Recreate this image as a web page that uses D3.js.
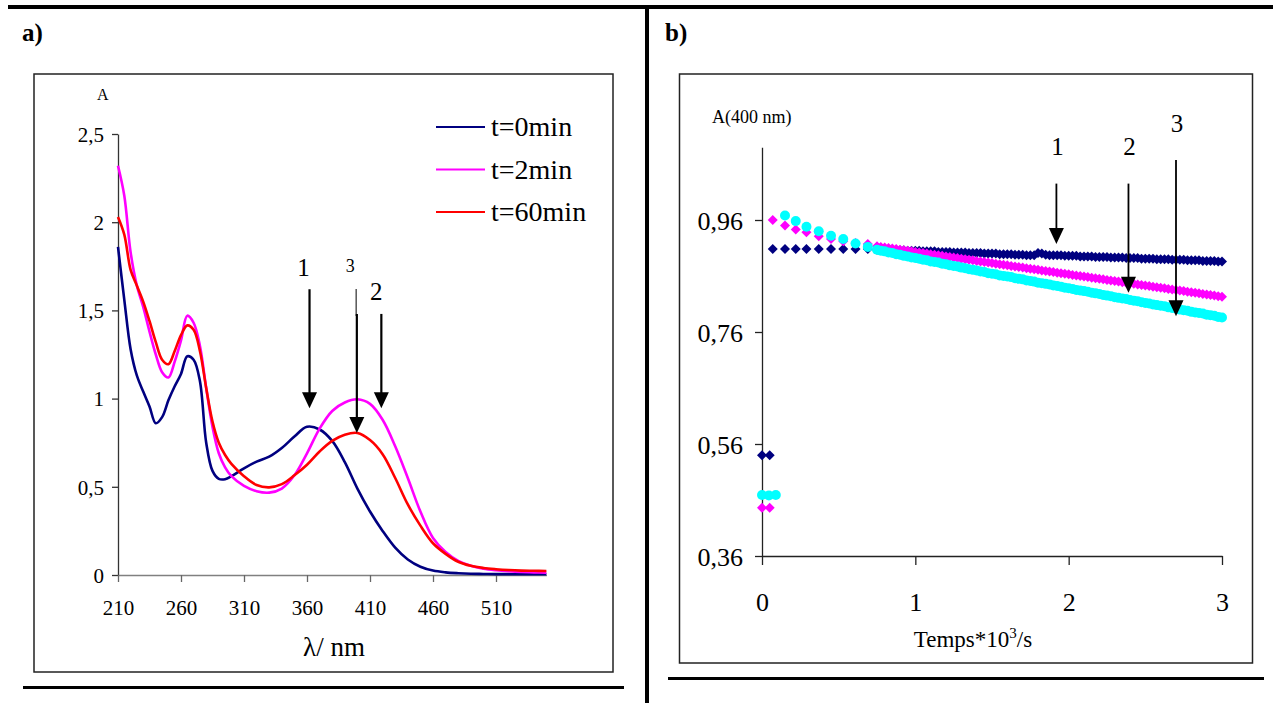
<!DOCTYPE html>
<html>
<head>
<meta charset="utf-8">
<script src="https://cdn.jsdelivr.net/npm/d3@7/dist/d3.min.js"></script>
<style>
  html, body { margin: 0; padding: 0; background: #fff; }
  svg { display: block; }
</style>
</head>
<body>
<svg id="chart" width="1273" height="703"></svg>
<script>
// ---------------- Panel a: spectra ----------------
const wavelengths = [210,215,220,225,230,235,240,245,250,255,260,265,270,275,280,285,290,295,300,
  310,320,330,340,350,360,370,380,390,400,410,420,430,440,450,460,470,480,490,500,510,520,530,540,550];
const absT0 = [1.86,1.56,1.28,1.13,1.04,0.955,0.86,0.895,0.99,1.07,1.14,1.24,1.22,1.10,0.75,0.59,0.545,0.543,0.56,
  0.605,0.643,0.671,0.72,0.785,0.84,0.825,0.76,0.64,0.49,0.36,0.25,0.155,0.088,0.047,0.025,0.015,0.01,0.007,0.006,0.005,0.005,0.004,0.004,0.004];
const absT2 = [2.32,2.15,1.83,1.64,1.52,1.38,1.25,1.15,1.12,1.21,1.33,1.47,1.43,1.30,1.06,0.84,0.69,0.61,0.56,
  0.505,0.475,0.467,0.49,0.565,0.69,0.83,0.93,0.978,0.996,0.97,0.88,0.73,0.55,0.36,0.21,0.13,0.08,0.052,0.036,0.027,0.021,0.017,0.015,0.013];
const absT60 = [2.03,1.93,1.73,1.64,1.55,1.44,1.32,1.22,1.195,1.27,1.36,1.415,1.39,1.27,1.06,0.87,0.75,0.68,0.63,
  0.56,0.51,0.497,0.515,0.565,0.625,0.70,0.76,0.795,0.805,0.765,0.685,0.55,0.40,0.28,0.18,0.12,0.075,0.052,0.04,0.033,0.028,0.025,0.024,0.023];
const seriesNamesA = ["t=0min", "t=2min", "t=60min"];
const seriesColorsA = ["#000080", "#ff00ff", "#ff0000"];
const xTicksA = [210,260,310,360,410,460,510];
const yTicksA = [0,0.5,1,1.5,2,2.5];
const arrowsA = [ {label:"1", lambda:362, top:1.62, tip:0.945}, {label:"2", lambda:419, top:1.48, tip:0.945}, {label:"3", lambda:399, top:1.48, tip:0.805} ];

// ---------------- Panel b: kinetics at 400 nm ----------------
const initTimesNavy = [0.00, 0.05];
const initNavy = [0.540, 0.540];
const initTimesMagenta = [0.00, 0.05];
const initMagenta = [0.446, 0.446];
const initTimesCyan = [0.00, 0.045, 0.09];
const initCyan = [0.469, 0.468, 0.469];

const sparseTimes = [0.07,0.15,0.22,0.29,0.37,0.45,0.53,0.61,0.69];
const sparseNavy = [0.908,0.908,0.908,0.908,0.908,0.908,0.908,0.908,0.908];
const sparseMagenta = [0.960,0.950,0.943,0.938,0.931,0.926,0.922,0.919,0.917];
const sparseTimesCyan = [0.15,0.22,0.29,0.37,0.45,0.53,0.61,0.69];
const sparseCyan = [0.968,0.958,0.948,0.940,0.932,0.926,0.918,0.912];

const denseStart = 0.75, denseStep = 0.025; // sampling grid of the recorded run, 0.75 .. 3.00
const denseNavy = [
  0.907,0.907,0.907,0.907,0.906,0.906,0.906,0.906,0.905,0.905,0.905,0.905,0.904,0.904,0.904,0.904,
  0.903,0.903,0.903,0.903,0.902,0.902,0.902,0.902,0.901,0.901,0.901,0.901,0.900,0.900,0.900,0.900,
  0.899,0.899,0.899,0.899,0.898,0.898,0.898,0.897,0.897,0.897,
  0.901,0.900,0.898,
  0.897,0.897,0.897,0.897,0.896,0.896,0.896,0.896,0.895,0.895,0.895,0.895,0.894,0.894,0.894,0.894,
  0.893,0.893,0.893,0.893,0.892,0.892,0.892,0.892,0.891,0.891,0.891,0.891,0.890,0.890,0.890,0.890,
  0.889,0.889,0.889,0.889,0.888,0.888,0.888,0.888,0.887,0.887,0.887,0.887,0.886,0.886];
const denseMagenta = [
  0.913,0.912,0.911,0.910,0.909,0.908,0.907,0.906,0.905,0.904,0.903,0.902,0.901,0.900,0.899,0.898,
  0.897,0.896,0.895,0.894,0.893,0.892,0.891,0.890,0.889,0.888,0.887,0.886,0.885,0.884,0.883,0.882,
  0.881,0.880,0.879,0.878,0.877,0.876,0.875,0.874,0.873,0.872,0.871,0.870,0.869,0.868,0.867,0.866,
  0.865,0.864,0.863,0.862,0.861,0.860,0.859,0.858,0.857,0.856,0.855,0.854,0.853,0.852,0.851,0.850,
  0.849,0.848,0.847,0.846,0.845,0.844,0.843,0.842,0.841,0.840,0.839,0.838,0.837,0.836,0.835,0.834,
  0.833,0.832,0.831,0.830,0.829,0.828,0.827,0.826,0.825,0.824,0.823];
const denseCyan = [
  0.907,0.905,0.904,0.902,0.901,0.899,0.898,0.896,0.895,0.893,0.892,
  0.891,0.889,0.888,0.886,0.885,0.884,0.882,0.881,0.879,0.878,0.877,0.875,0.874,0.872,0.871,0.870,0.868,0.867,0.865,0.864,
  0.863,0.861,0.860,0.859,0.858,0.856,0.855,0.854,0.852,0.851,0.850,0.848,0.847,0.846,0.845,0.843,0.842,0.841,0.839,0.838,
  0.837,0.835,0.834,0.833,0.832,0.830,0.829,0.828,0.826,0.825,0.824,0.822,0.821,0.820,0.819,0.817,0.816,0.815,0.813,0.812,
  0.811,0.809,0.808,0.807,0.806,0.804,0.803,0.802,0.800,0.799,0.798,0.796,0.795,0.794,0.793,0.791,0.790,0.789,0.787,0.786];
const xTicksB = [0,1,2,3];
const yTicksB = [0.36,0.56,0.76,0.96];
const yAxisTopB = 1.09;
const arrowsB = [ {label:"1", t:1.92, top:1.025, tip:0.917}, {label:"2", t:2.39, top:1.025, tip:0.83}, {label:"3", t:2.70, top:1.067, tip:0.788} ];

// ---------------- drawing ----------------
const svg = d3.select("#chart");
const comma = d => String(d).replace(".", ",");

svg.append("rect").attr("x", 8).attr("y", 5).attr("width", 1265).attr("height", 4).attr("fill", "#000");
svg.append("rect").attr("x", 645).attr("y", 5).attr("width", 4).attr("height", 698).attr("fill", "#000");
svg.append("rect").attr("x", 23).attr("y", 686).attr("width", 601).attr("height", 3).attr("fill", "#000");
svg.append("rect").attr("x", 668).attr("y", 677).attr("width", 596).attr("height", 3).attr("fill", "#000");

svg.append("text").attr("x", 22).attr("y", 41).attr("font-size", 25).attr("font-weight", "bold").text("a)");
svg.append("text").attr("x", 665).attr("y", 41).attr("font-size", 25).attr("font-weight", "bold").text("b)");

svg.append("rect").attr("x", 34).attr("y", 74).attr("width", 579).attr("height", 598)
  .attr("fill", "none").attr("stroke", "#222").attr("stroke-width", 1.5);
svg.append("rect").attr("x", 679.5).attr("y", 74).attr("width", 573).attr("height", 589)
  .attr("fill", "none").attr("stroke", "#222").attr("stroke-width", 1.5);

function arrow(g, x, y1, y2, w, head) {
  g.append("line").attr("x1", x).attr("x2", x).attr("y1", y1).attr("y2", y2 - head + 2)
    .attr("stroke", "#000").attr("stroke-width", w);
  g.append("path").attr("d", `M${x-7.5},${y2-head} L${x+7.5},${y2-head} L${x},${y2} Z`).attr("fill", "#000");
}

// ----- Panel a -----
const xA = d3.scaleLinear().domain([210, 550]).range([118, 546.4]);
const yA = d3.scaleLinear().domain([0, 2.5]).range([575, 134]);
const gA = svg.append("g");

const yAxisA = gA.append("g").attr("transform", "translate(118,0)")
  .call(d3.axisLeft(yA).tickValues(yTicksA).tickSize(6).tickSizeOuter(0).tickFormat(comma));
yAxisA.select(".domain").attr("stroke", "#333").attr("stroke-width", 1.3);
yAxisA.selectAll(".tick line").attr("stroke", "#333").attr("stroke-width", 1.3);
yAxisA.selectAll(".tick text").attr("font-size", 21).attr("fill", "#000").attr("x", -14).attr("dy", "0.35em");

const xAxisA = gA.append("g").attr("transform", "translate(0,575)")
  .call(d3.axisBottom(xA).tickValues(xTicksA).tickSize(7).tickSizeOuter(0).tickFormat(d3.format("d")));
xAxisA.select(".domain").attr("stroke", "#808080").attr("stroke-width", 1.5);
xAxisA.selectAll(".tick line").attr("stroke", "#666").attr("stroke-width", 1.3);
xAxisA.selectAll(".tick text").attr("font-size", 21).attr("fill", "#000").attr("y", 33).attr("dy", "0.35em");

gA.append("text").attr("x", 97).attr("y", 100).attr("font-size", 16).text("A");
gA.append("text").attr("x", 334).attr("y", 656).attr("font-size", 27).attr("text-anchor", "middle").text("λ/ nm");

const lineA = d3.line().x(d => xA(d[0])).y(d => yA(d[1])).curve(d3.curveCatmullRom.alpha(0.5));
[absT0, absT2, absT60].forEach((vals, i) => {
  gA.append("path").datum(wavelengths.map((w, k) => [w, vals[k]]))
    .attr("d", lineA).attr("fill", "none").attr("stroke", seriesColorsA[i]).attr("stroke-width", 2.6)
    .attr("stroke-linejoin", "round");
});

seriesNamesA.forEach((name, i) => {
  const ly = 127 + i * 42.5;
  gA.append("line").attr("x1", 436).attr("x2", 485).attr("y1", ly).attr("y2", ly)
    .attr("stroke", seriesColorsA[i]).attr("stroke-width", 2.2);
  gA.append("text").attr("x", 491).attr("y", ly + 9).attr("font-size", 28).text(name);
});

arrowsA.forEach(a => {
  const x = xA(a.lambda);
  if (a.label === "3") {
    gA.append("line").attr("x1", x).attr("x2", x).attr("y1", 289).attr("y2", 316).attr("stroke", "#000").attr("stroke-width", 1);
    arrow(gA, x + 0.7, 314, yA(a.tip), 2.2, 16);
    gA.append("text").attr("x", x - 6).attr("y", 272).attr("font-size", 18).attr("text-anchor", "middle").text(a.label);
  } else {
    arrow(gA, x, yA(a.top), yA(a.tip), 2.2, 16);
    gA.append("text").attr("x", x - (a.label === "1" ? 6 : 5)).attr("y", a.label === "1" ? 276 : 300)
      .attr("font-size", 25).attr("text-anchor", "middle").text(a.label);
  }
});

// ----- Panel b -----
const xB = d3.scaleLinear().domain([0, 3]).range([762, 1222]);
const yB = d3.scaleLinear().domain([0.36, yAxisTopB]).range([556, 556 - (yAxisTopB - 0.36) * 560]);
const gB = svg.append("g");

const yAxisB = gB.append("g").attr("transform", "translate(762,0)")
  .call(d3.axisLeft(yB).tickValues(yTicksB).tickSize(7).tickSizeOuter(0).tickFormat(d => comma(d3.format(".2f")(d))));
yAxisB.select(".domain").attr("stroke", "#222").attr("stroke-width", 1.3);
yAxisB.selectAll(".tick line").attr("stroke", "#222").attr("stroke-width", 1.3);
yAxisB.selectAll(".tick text").attr("font-size", 26).attr("fill", "#000").attr("x", -19).attr("dy", "0.35em");

const xAxisB = gB.append("g").attr("transform", "translate(0,556)")
  .call(d3.axisBottom(xB).tickValues(xTicksB).tickSize(9).tickSizeOuter(0).tickFormat(d3.format("d")));
xAxisB.select(".domain").attr("stroke", "#222").attr("stroke-width", 1.3);
xAxisB.selectAll(".tick line").attr("stroke", "#222").attr("stroke-width", 1.3);
xAxisB.selectAll(".tick text").attr("font-size", 26).attr("fill", "#000").attr("y", 46).attr("dy", "0.35em");

gB.append("text").attr("x", 712).attr("y", 123).attr("font-size", 18).text("A(400 nm)");
const xl = gB.append("text").attr("x", 973).attr("y", 647).attr("font-size", 23).attr("text-anchor", "middle");
xl.append("tspan").text("Temps*10");
xl.append("tspan").attr("font-size", 15).attr("dy", -9).text("3");
xl.append("tspan").attr("dy", 9).text("/s");

const diamond = r => `M0,${-r} L${r},0 L0,${r} L${-r},0 Z`;
function pts(times, vals) { return times.map((t, i) => [t, vals[i]]); }
const denseTimes = denseNavy.map((_, i) => denseStart + i * denseStep);

const navyPts = pts(initTimesNavy, initNavy).concat(pts(sparseTimes, sparseNavy), pts(denseTimes, denseNavy));
const magPts = pts(initTimesMagenta, initMagenta).concat(pts(sparseTimes, sparseMagenta), pts(denseTimes, denseMagenta));
const cyanPts = pts(initTimesCyan, initCyan).concat(pts(sparseTimesCyan, sparseCyan), pts(denseTimes, denseCyan));

gB.append("g").selectAll("path").data(navyPts).join("path")
  .attr("d", diamond(5)).attr("transform", d => `translate(${xB(d[0])},${yB(d[1])})`).attr("fill", "#000080");
gB.append("g").selectAll("path").data(magPts).join("path")
  .attr("d", diamond(5)).attr("transform", d => `translate(${xB(d[0])},${yB(d[1])})`).attr("fill", "#ff00ff");
gB.append("g").selectAll("circle").data(cyanPts).join("circle")
  .attr("cx", d => xB(d[0])).attr("cy", d => yB(d[1])).attr("r", 5).attr("fill", "#00ffff");

arrowsB.forEach(a => {
  const x = xB(a.t);
  arrow(gB, x, yB(a.top), yB(a.tip), 1.8, 16);
  gB.append("text").attr("x", x + 1).attr("y", a.label === "3" ? 132 : 155).attr("font-size", 25)
    .attr("text-anchor", "middle").text(a.label);
});

// Times-like serif for every label
svg.selectAll("g").attr("font-family", null);
svg.selectAll("text").attr("font-family", "Liberation Serif").style("font-family", "'Liberation Serif'");
</script>
</body>
</html>
